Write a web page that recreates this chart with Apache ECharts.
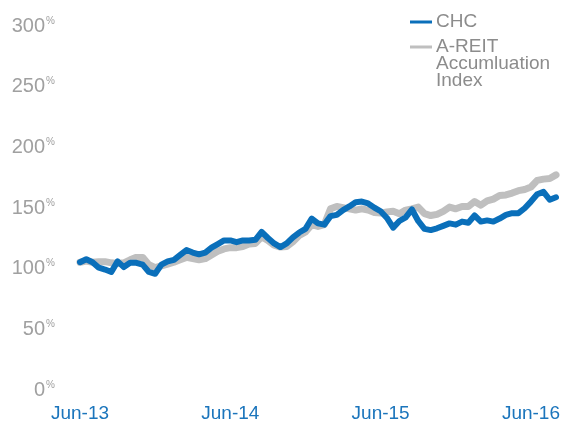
<!DOCTYPE html>
<html>
<head>
<meta charset="utf-8">
<script src="https://cdn.jsdelivr.net/npm/echarts@6/dist/echarts.min.js"></script>
<style>
  html, body { margin: 0; padding: 0; background: #fff; }
  #chart { width: 564px; height: 423px; }
</style>
</head>
<body>
<div id="chart"></div>
<script>
// x = half-month steps counted from Jun-13
const halfMonths = [];
for (let i = 0; i <= 76; i++) halfMonths.push(i / 2);

const xTickLabels = ['Jun-13', 'Jun-14', 'Jun-15', 'Jun-16'];
const seriesNames = ['CHC', 'A-REIT\nAccumluation\nIndex'];

// CHC (%)
const chcValues = [
  102, 104.5, 102, 97.5, 96, 94, 102.7, 98, 101.5, 101.5,
  100, 94, 92.5, 100, 102.7, 104, 108, 112, 110, 108.5,
  110, 114, 117, 120, 120, 118.5, 120, 120, 120.5, 127,
  122, 117.5, 114.5, 117.5, 122.5, 126.5, 129.5, 138, 134, 133,
  140, 141, 145, 148, 151.5, 152, 150.5, 147, 144, 138.5,
  130.5, 136, 139, 145.5, 136, 129.5, 128.5, 130, 132, 134,
  133, 135.5, 134.5, 140.5, 135.5, 136.5, 135.5, 138, 141, 142.4,
  142.4, 146.5, 152, 158, 160, 153.5, 155.5
];

// A-REIT Accumulation Index (%)
const areitValues = [
  102, 103, 102, 102.5, 102.5, 101.5, 101, 101.5, 104, 106,
  106, 100, 97.5, 99, 100.5, 102, 104, 106, 105, 104,
  105, 108, 111, 113, 114, 114, 115, 117, 117.5, 123,
  120, 116, 114.5, 115, 119, 124, 127, 133, 131.5, 133,
  146, 148, 147, 146, 145, 146, 145, 143, 142.5, 143.5,
  144, 142, 145, 146, 147.5, 142, 140.5, 141.5, 144, 147.5,
  146, 148, 148, 152, 149, 152.5, 154, 157, 157.5, 159,
  161, 162, 164, 169.5, 170.5, 171, 174
];

const yTicks = [0, 50, 100, 150, 200, 250, 300];

const FONT = '"Liberation Sans", Arial, sans-serif';

function pairs(vals) {
  return vals.map((v, i) => [halfMonths[i], v]);
}

const chart = echarts.init(document.getElementById('chart'));

const option = {
  animation: false,
  grid: { left: 80, right: 8, top: 22, bottom: 36 },
  xAxis: {
    type: 'value',
    min: 0,
    max: 38,
    interval: 12,
    axisLine: { show: false },
    axisTick: { show: false },
    splitLine: { show: false },
    axisLabel: {
      margin: 18,
      color: '#1b75bc',
      fontFamily: FONT,
      fontSize: 19,
      formatter: v => xTickLabels[Math.round(v / 12)] || ''
    }
  },
  yAxis: {
    type: 'value',
    min: yTicks[0],
    max: yTicks[yTicks.length - 1],
    interval: 50,
    axisLine: { show: false },
    axisTick: { show: false },
    splitLine: { show: false },
    axisLabel: {
      margin: 25,
      padding: [8, 0, 0, 0],
      formatter: v => '{n|' + v + '}{p|%}',
      rich: {
        n: { color: '#a0a0a0', fontFamily: FONT, fontSize: 20, lineHeight: 20 },
        p: { color: '#a0a0a0', fontFamily: FONT, fontSize: 10, verticalAlign: 'top', lineHeight: 20, padding: [0, 0, 8, 1] }
      }
    }
  },
  series: [
    {
      name: seriesNames[1],
      type: 'line',
      data: pairs(areitValues),
      showSymbol: false,
      lineStyle: { color: '#bfbfbf', width: 7, join: 'round', cap: 'round' },
      z: 2
    },
    {
      name: seriesNames[0],
      type: 'line',
      data: pairs(chcValues),
      showSymbol: false,
      lineStyle: { color: '#0a6fba', width: 6, join: 'round', cap: 'round' },
      z: 3
    }
  ],
  graphic: [
    { type: 'line', shape: { x1: 410, y1: 22, x2: 432, y2: 22 }, style: { stroke: '#0a6fba', lineWidth: 3 } },
    { type: 'text', left: 436, top: 12, style: { text: seriesNames[0], fill: '#8c8c8c', font: '19px ' + FONT } },
    { type: 'line', shape: { x1: 410, y1: 47, x2: 432, y2: 47 }, style: { stroke: '#bfbfbf', lineWidth: 3 } },
    { type: 'text', left: 436, top: 37, style: { text: seriesNames[1], fill: '#8c8c8c', font: '19px ' + FONT, lineHeight: 17 } }
  ]
};

chart.setOption(option);
window.addEventListener('resize', () => chart.resize());
</script>
</body>
</html>
